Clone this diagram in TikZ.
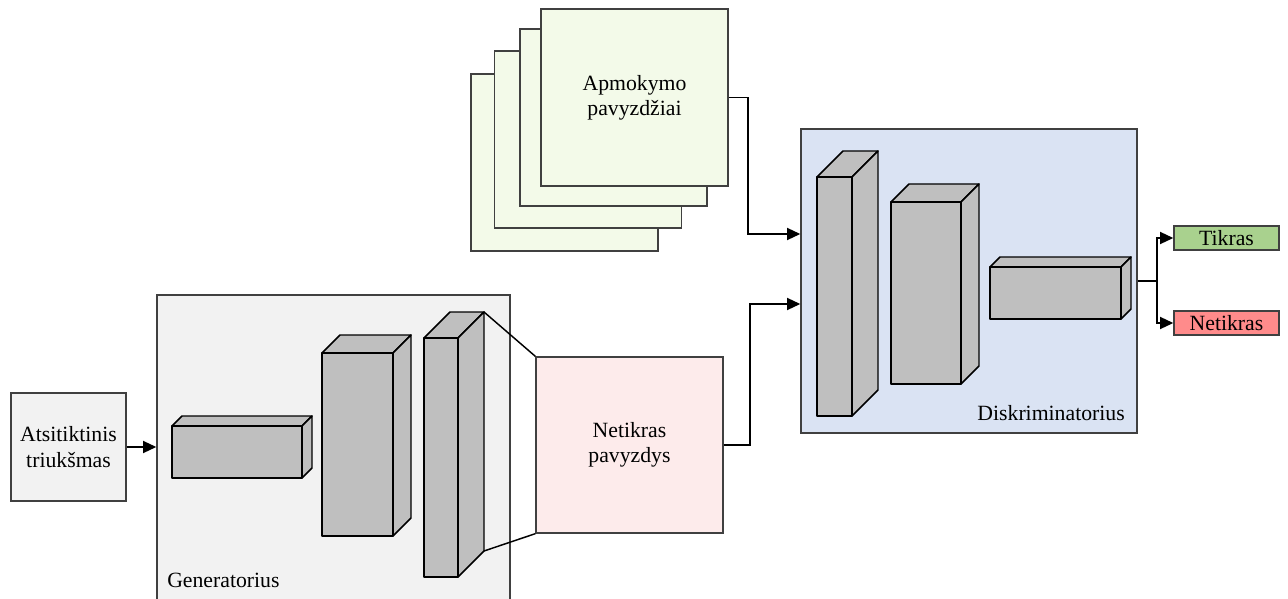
\documentclass[tikz,border=0pt]{standalone}
\usepackage{fontspec}
\setmainfont{Liberation Serif}
\usetikzlibrary{arrows.meta,calc}
\definecolor{boxgray}{HTML}{F2F2F2}
\definecolor{fakepink}{HTML}{FDEBEB}
\definecolor{sheetgreen}{HTML}{F3FAE9}
\definecolor{discblue}{HTML}{DAE3F3}
\definecolor{cubegray}{HTML}{BFBFBF}
\definecolor{realgreen}{HTML}{A9D18E}
\definecolor{fakered}{HTML}{FF8B8B}
\definecolor{edgegray}{HTML}{404040}
\tikzset{
  panel/.style={draw=edgegray, line width=1pt, inner sep=0pt, align=center,
    font=\fontsize{16.3}{19}\selectfont},
  cubeface/.style={draw=black, fill=cubegray, line width=1.1pt, line join=round},
  conn/.style={draw=black, line width=1.4pt},
  arr/.style={conn, -{Triangle[length=10pt,width=9pt]}},
  lbl/.style={inner sep=0pt, font=\fontsize{16.3}{19}\selectfont}
}
% name, x1, y1, x2, y2, depth
\newcommand\mycuboid[6]{%
  \draw[cubeface] (#2,#3) -- (#2+#6,#3-#6) -- (#4+#6,#3-#6) -- (#4,#3) -- cycle;
  \draw[cubeface] (#4,#3) -- (#4+#6,#3-#6) -- (#4+#6,#5-#6) -- (#4,#5) -- cycle;
  \draw[cubeface] (#2,#3) rectangle (#4,#5);
  \coordinate (#1-tr) at (#4+#6,#3-#6);
  \coordinate (#1-br) at (#4+#6,#5-#6);
}
\begin{document}
\begin{tikzpicture}[x=0.75pt,y=-0.75pt]
\useasboundingbox (0,0) rectangle (1288,599);

% noise
\node[panel, fill=boxgray, minimum width=86.25pt, minimum height=81pt] (noise) at (68.5,447) {Atsitiktinis\\triukšmas};

% generator
\node[panel, fill=boxgray, minimum width=264.75pt, minimum height=236.25pt] (gen) at (333.5,452.5) {};
\node[lbl, anchor=west] (genlbl) at (167,580) {Generatorius};
\mycuboid{g1}{172}{426}{302}{478}{10}
\mycuboid{g2}{322}{353}{393}{536}{18}
\mycuboid{g3}{424}{338}{458}{577}{26}

% fake sample
\node[panel, fill=fakepink, minimum width=140.25pt, minimum height=132pt] (fake) at (629.5,445) {Netikras\\pavyzdys};
\draw[black, line width=1.1pt] (g3-tr) -- (fake.north west);
\draw[black, line width=1.1pt] (g3-br) -- (fake.south west);

% training sheets
\node[panel, fill=sheetgreen, minimum width=140.25pt, minimum height=132.75pt] (s4) at (564.5,162.5) {};
\node[panel, fill=sheetgreen, minimum width=140.25pt, minimum height=132.75pt] (s3) at (588,139.5) {};
\node[panel, fill=sheetgreen, minimum width=140.25pt, minimum height=132.75pt] (s2) at (613.5,117.5) {};
\node[panel, fill=sheetgreen, minimum width=140.25pt, minimum height=132.75pt] (s1) at (634.5,97.5) {Apmokymo\\pavyzdžiai};

% discriminator
\node[panel, fill=discblue, minimum width=252pt, minimum height=228pt] (disc) at (969,281) {};
\node[lbl, anchor=east] (disclbl) at (1125,413) {Diskriminatorius};
\mycuboid{d1}{817}{177}{852}{416}{26}
\mycuboid{d2}{891}{202}{961}{384}{18}
\mycuboid{d3}{990}{267}{1121}{319}{10}

% outputs
\node[panel, fill=realgreen, minimum width=78.75pt, minimum height=18pt] (real) at (1226.5,238) {Tikras};
\node[panel, fill=fakered, minimum width=78.75pt, minimum height=18pt] (fakeout) at (1226.5,323) {Netikras};

% connectors
\coordinate (inA) at ($(disc.west)+(0,-47)$);
\coordinate (inB) at ($(disc.west)+(0,23)$);
\coordinate (split) at ($(disc.east)+(19,0)$);
\draw[arr] (noise.east) -- (noise.east -| gen.west);
\draw[arr] (s1.east) -- ++(19,0) |- (inA);
\draw[arr] (fake.east) -- ++(26,0) |- (inB);
\draw[conn] (disc.east) -- (split);
\draw[arr] (split) |- (real.west);
\draw[arr] (split) |- (fakeout.west);
\end{tikzpicture}
\end{document}
